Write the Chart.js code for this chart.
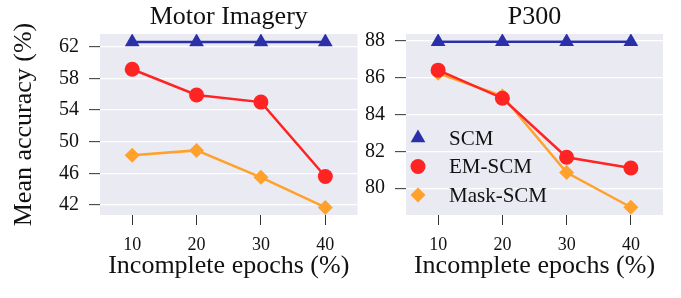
<!DOCTYPE html>
<html>
<head>
<meta charset="utf-8">
<script src="https://cdn.jsdelivr.net/npm/chart.js@4"></script>
<style>
    body { margin: 0; background: #fff; }
    .wrap { position: absolute; top: 0; height: 298px; }
</style>
</head>
<body>
<div class="wrap" style="left:0;width:366px"><canvas id="miChart" width="366" height="298"></canvas></div>
<div class="wrap" style="left:366px;width:315px"><canvas id="p300Chart" width="315" height="298"></canvas></div>
<script>
// data
const epochs = [10, 20, 30, 40];
const seriesNames = ['SCM', 'EM-SCM', 'Mask-SCM'];

const miScm = [62.6, 62.6, 62.6, 62.6];
const miEm = [59.15, 55.9, 55.0, 45.6];
const miMask = [48.3, 48.9, 45.5, 41.7];
const miTicks = [42, 46, 50, 54, 58, 62];

const p3Scm = [87.94, 87.94, 87.94, 87.94];
const p3Em = [86.4, 84.88, 81.68, 81.1];
const p3Mask = [86.23, 85.0, 80.85, 78.97];
const p3Ticks = [80, 82, 84, 86, 88];

const SERIF = '"Liberation Serif", "Times New Roman", serif';
const colors = ['#2b30a8', '#ff2424', '#ffa12a'];
const markers = ['triangle', 'circle', 'rectRot'];
const radii = [8.5, 7.5, 7.5];

function makeDatasets(values) {
    return values.map(function(vals, i) {
        return {
            label: seriesNames[i],
            data: epochs.map((x, k) => ({ x: x, y: vals[k] })),
            borderColor: colors[i],
            backgroundColor: colors[i],
            pointBackgroundColor: colors[i],
            pointBorderColor: colors[i],
            pointBorderWidth: 0,
            pointStyle: markers[i],
            pointRadius: radii[i],
            borderWidth: 2.5
        };
    });
}

// grey panel behind the plot
const panelBg = {
    id: 'panelBg',
    beforeDraw(chart) {
        const a = chart.chartArea;
        const ctx = chart.ctx;
        ctx.save();
        ctx.fillStyle = '#eaeaf2';
        ctx.fillRect(a.left, a.top, a.right - a.left, a.bottom - a.top);
        ctx.restore();
    }
};

// legend drawn inside the P300 panel
const innerLegend = {
    id: 'innerLegend',
    afterDraw(chart, args, opts) {
        if (!opts.show) return;
        const a = chart.chartArea;
        const ctx = chart.ctx;
        ctx.save();
        chart.data.datasets.forEach(function(ds, i) {
            const y = a.top + 104 + i * 28.5;
            ctx.fillStyle = ds.pointBackgroundColor;
            ctx.strokeStyle = ds.pointBorderColor;
            Chart.helpers.drawPoint(ctx, { pointStyle: ds.pointStyle, radius: ds.pointRadius, borderWidth: 0 }, a.left + 12, y);
            ctx.fillStyle = '#111';
            ctx.font = '21px ' + SERIF;
            ctx.textBaseline = 'middle';
            ctx.textAlign = 'left';
            ctx.fillText(ds.label, a.left + 43, y + 1);
        });
        ctx.restore();
    }
};

function makeChart(id, title, values, yTicks, yMin, yMax, yWidth, padRight, showLegend, showYTitle) {
    const ctx = document.getElementById(id).getContext('2d');
    return new Chart(ctx, {
        type: 'line',
        data: { datasets: makeDatasets(values) },
        plugins: [panelBg, innerLegend],
        options: {
            responsive: false,
            animation: false,
            layout: { padding: { left: 0, right: padRight, top: 0, bottom: 0 } },
            plugins: {
                legend: { display: false },
                tooltip: { enabled: false },
                title: {
                    display: true,
                    text: title,
                    fullSize: false,
                    color: '#111',
                    font: { family: SERIF, size: 26, weight: 'normal', lineHeight: 1.2 },
                    padding: { top: 2, bottom: 0.8 }
                },
                innerLegend: { show: showLegend }
            },
            scales: {
                x: {
                    type: 'linear',
                    min: 5,
                    max: 45,
                    afterBuildTicks: function(s) { s.ticks = epochs.map(v => ({ value: v })); },
                    afterFit: function(s) { s.height = 83; },
                    border: { display: false },
                    grid: { drawOnChartArea: false, drawTicks: true, tickLength: 10, tickColor: '#333', tickWidth: 1 },
                    ticks: { color: '#111', padding: 9, font: { family: SERIF, size: 18 } },
                    title: {
                        display: true,
                        text: 'Incomplete epochs (%)',
                        color: '#111',
                        font: { family: SERIF, size: 26, lineHeight: 1.2 },
                        padding: { top: 0, bottom: 16 }
                    }
                },
                y: {
                    min: yMin,
                    max: yMax,
                    afterBuildTicks: function(s) { s.ticks = yTicks.map(v => ({ value: v })); },
                    afterFit: function(s) { s.width = yWidth; },
                    border: { display: false },
                    grid: { color: '#ffffff', lineWidth: 1.3, tickLength: 11, tickColor: '#333', tickWidth: 1 },
                    ticks: { color: '#111', padding: 10, font: { family: SERIF, size: 20 } },
                    title: {
                        display: showYTitle,
                        text: 'Mean accuracy (%)',
                        color: '#111',
                        font: { family: SERIF, size: 26, lineHeight: 1.2 },
                        padding: { top: 9, bottom: 0 }
                    }
                }
            }
        }
    });
}

makeChart('miChart', 'Motor Imagery', [miScm, miEm, miMask], miTicks, 40.74, 63.6, 100, 8, false, true);
makeChart('p300Chart', 'P300', [p3Scm, p3Em, p3Mask], p3Ticks, 78.55, 88.36, 40, 18, true, false);
</script>
</body>
</html>
